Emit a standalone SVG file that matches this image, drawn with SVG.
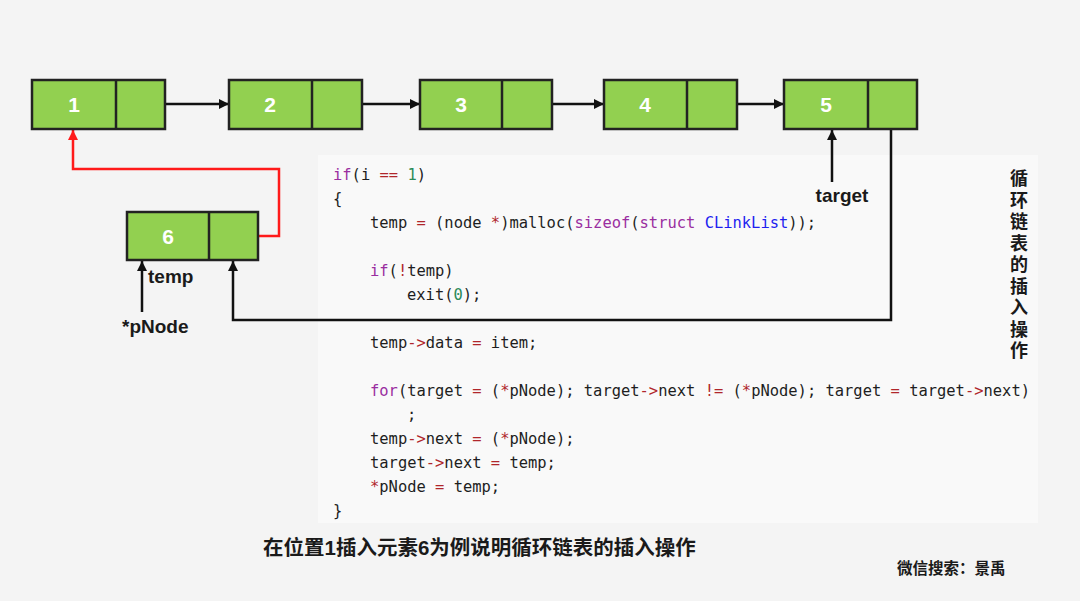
<svg xmlns="http://www.w3.org/2000/svg" width="1080" height="601" viewBox="0 0 1080 601">
<style>
.bg{fill:#f4f4f4}
.code-bg{fill:#f9f9f9}
.cell{fill:#92d050;stroke:#222;stroke-width:2.5}
.div{stroke:#222;stroke-width:2.5}
.num{font-family:"Liberation Sans",Arial,sans-serif;font-size:21px;font-weight:bold;fill:#fff;text-anchor:middle}
.lbl{font-family:"Liberation Sans",Arial,sans-serif;font-size:19px;font-weight:bold;fill:#1a1a1a}
.code{font-family:"DejaVu Sans Mono","Liberation Mono",monospace;font-size:15.45px;fill:#1e1e1e}
.k{fill:#9a2ea0}
.o{fill:#b0262b}
.n{fill:#2b8a57}
.t{fill:#1f1ff0}
.line{fill:none;stroke:#111;stroke-width:2.5}
.red{fill:none;stroke:#ff1a1a;stroke-width:2.5}
.cjk{font-family:"Liberation Sans","Noto Sans CJK SC",sans-serif;font-weight:bold;fill:#1a1a1a}
</style>
<defs>
<marker id="ah" viewBox="0 0 10 10" refX="10" refY="5" markerWidth="4" markerHeight="4" orient="auto" markerUnits="strokeWidth">
<path d="M0,0 L10,5 L0,10 z" fill="#111"/>
</marker>
<marker id="ahr" viewBox="0 0 10 10" refX="10" refY="5" markerWidth="4" markerHeight="4" orient="auto" markerUnits="strokeWidth">
<path d="M0,0 L10,5 L0,10 z" fill="#ff1a1a"/>
</marker>
</defs>
<rect class="bg" x="0" y="0" width="1080" height="601"/>
<rect class="code-bg" x="318" y="155" width="720" height="368"/>

<g id="code" class="code">
<text x="333" y="180"><tspan class="k">if</tspan>(i <tspan class="o">==</tspan> <tspan class="n">1</tspan>)</text>
<text x="333" y="204">{</text>
<text x="370" y="228">temp <tspan class="o">=</tspan> (node <tspan class="o">*</tspan>)malloc(<tspan class="k">sizeof</tspan>(<tspan class="k">struct</tspan> <tspan class="t">CLinkList</tspan>));</text>
<text x="370" y="276"><tspan class="k">if</tspan>(<tspan class="o">!</tspan>temp)</text>
<text x="407" y="300">exit(<tspan class="n">0</tspan>);</text>
<text x="370" y="348">temp<tspan class="o">-&gt;</tspan>data <tspan class="o">=</tspan> item;</text>
<text x="370" y="396"><tspan class="k">for</tspan>(target <tspan class="o">=</tspan> (<tspan class="o">*</tspan>pNode); target<tspan class="o">-&gt;</tspan>next <tspan class="o">!=</tspan> (<tspan class="o">*</tspan>pNode); target <tspan class="o">=</tspan> target<tspan class="o">-&gt;</tspan>next)</text>
<text x="407" y="420">;</text>
<text x="370" y="444">temp<tspan class="o">-&gt;</tspan>next <tspan class="o">=</tspan> (<tspan class="o">*</tspan>pNode);</text>
<text x="370" y="468">target<tspan class="o">-&gt;</tspan>next <tspan class="o">=</tspan> temp;</text>
<text x="370" y="492"><tspan class="o">*</tspan>pNode <tspan class="o">=</tspan> temp;</text>
<text x="333" y="516">}</text>
</g>

<g id="connectors">
<line class="line" x1="142" y1="104" x2="229" y2="104" marker-end="url(#ah)"/>
<line class="line" x1="338" y1="104" x2="420" y2="104" marker-end="url(#ah)"/>
<line class="line" x1="522" y1="104" x2="604" y2="104" marker-end="url(#ah)"/>
<line class="line" x1="712" y1="104" x2="784" y2="104" marker-end="url(#ah)"/>
<polyline class="red" points="259,236 279,236 279,169 73,169 73,130" marker-end="url(#ahr)"/>
<polyline class="line" points="891,102 891,320 233,320 233,261" marker-end="url(#ah)"/>
<line class="line" x1="832" y1="182" x2="832" y2="130" marker-end="url(#ah)"/>
<line class="line" x1="142" y1="312" x2="142" y2="261" marker-end="url(#ah)"/>
</g>

<g id="node1">
<rect class="cell" x="32" y="80" width="133" height="49"/>
<line class="div" x1="116" y1="80" x2="116" y2="129"/>
<text class="num" x="74" y="112">1</text>
</g>
<g id="node2">
<rect class="cell" x="229" y="80" width="133" height="49"/>
<line class="div" x1="312" y1="80" x2="312" y2="129"/>
<text class="num" x="270" y="112">2</text>
</g>
<g id="node3">
<rect class="cell" x="420" y="80" width="132" height="49"/>
<line class="div" x1="502" y1="80" x2="502" y2="129"/>
<text class="num" x="461" y="112">3</text>
</g>
<g id="node4">
<rect class="cell" x="604" y="80" width="133" height="49"/>
<line class="div" x1="687" y1="80" x2="687" y2="129"/>
<text class="num" x="645" y="112">4</text>
</g>
<g id="node5">
<rect class="cell" x="784" y="80" width="133" height="49"/>
<line class="div" x1="868" y1="80" x2="868" y2="129"/>
<text class="num" x="826" y="112">5</text>
</g>
<g id="node6">
<rect class="cell" x="127" y="212" width="131" height="48"/>
<line class="div" x1="209" y1="212" x2="209" y2="260"/>
<text class="num" x="168" y="244">6</text>
</g>

<g id="labels">
<text class="lbl" x="842" y="202" text-anchor="middle">target</text>
<text class="lbl" x="148" y="283">temp</text>
<text class="lbl" x="122" y="333">*pNode</text>
</g>

<g id="side-title" class="cjk" font-size="18" text-anchor="middle">
<text x="1019" y="185">循</text>
<text x="1019" y="206.5">环</text>
<text x="1019" y="228">链</text>
<text x="1019" y="249.5">表</text>
<text x="1019" y="271">的</text>
<text x="1019" y="292.5">插</text>
<text x="1019" y="314">入</text>
<text x="1019" y="335.5">操</text>
<text x="1019" y="357">作</text>
</g>

<text class="cjk" x="263" y="555" font-size="20.5">在位置1插入元素6为例说明循环链表的插入操作</text>
<text class="cjk" x="897" y="574" font-size="15.5">微信搜索：景禹</text>
</svg>
